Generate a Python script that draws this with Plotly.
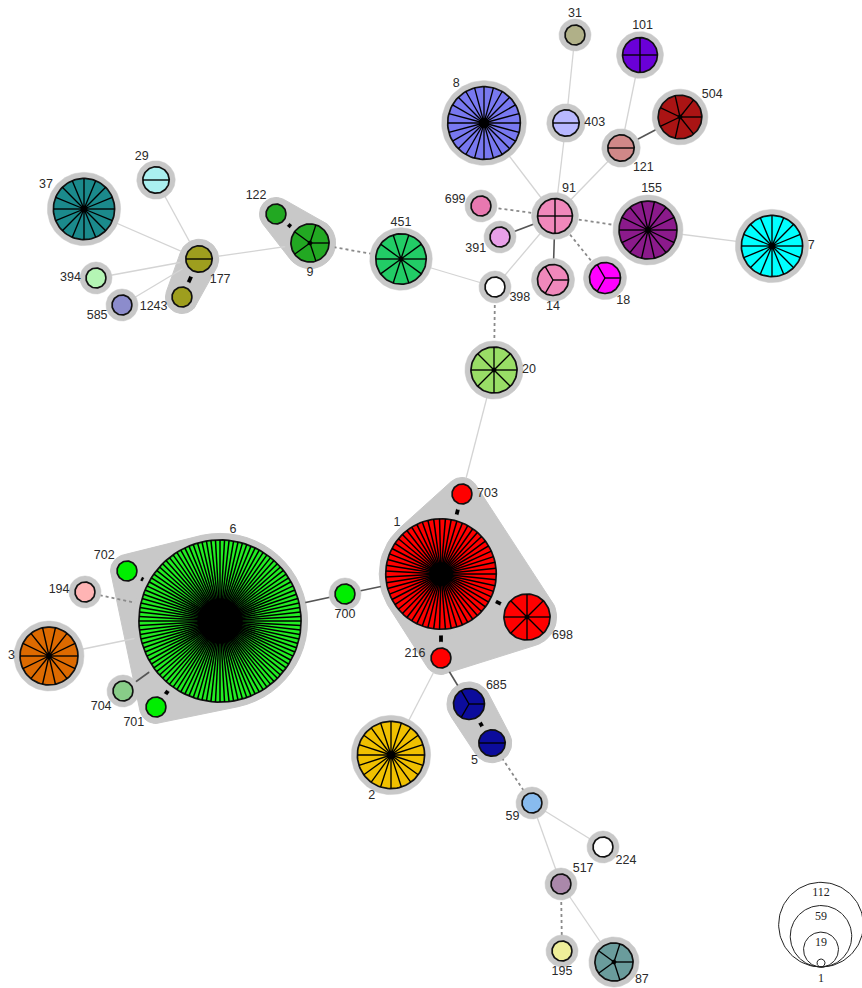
import numpy as np
import plotly.graph_objects as go

# ---------------- data ----------------
st_labels = ["37", "29", "177", "1243", "394", "585", "122", "9", "451", "398",
             "91", "699", "391", "14", "18", "155", "7", "8", "31", "403",
             "101", "121", "504", "20", "703", "1", "698", "216", "6", "702",
             "194", "3", "704", "701", "700", "685", "5", "2", "59", "224",
             "517", "195", "87"]
layout_x = [84, 156, 199, 182, 96, 122, 276, 310, 401, 495,
            555, 481, 500, 553, 605, 648, 772, 484, 575, 566,
            640, 621, 680, 494, 462, 441, 527, 441, 220, 127,
            85, 49, 123, 156, 345, 469, 492, 391, 532, 603,
            561, 562, 614]
layout_y = [209, 180, 259, 297, 278, 305, 214, 243, 259, 287,
            216, 206, 237, 280, 278, 230, 246, 123, 35, 123,
            55, 148, 117, 370, 494, 574, 617, 658, 621, 571,
            592, 656, 691, 707, 594, 704, 743, 755, 803, 847,
            884, 951, 962]
isolates = [16, 2, 2, 1, 1, 1, 1, 5, 10, 1,
            4, 1, 1, 3, 3, 14, 16, 24, 1, 2,
            4, 2, 7, 8, 1, 59, 8, 1, 112, 1,
            1, 14, 1, 1, 1, 3, 2, 20, 1, 1,
            1, 1, 5]
node_colors = ["#1b8a8c", "#aaf0f0", "#9e9e1e", "#9e9e1e", "#b4f5b4", "#8c8ccc", "#22a822", "#22a822", "#22cc66", "#ffffff",
               "#f088bb", "#e878b0", "#e8a0e8", "#f088bb", "#ff00ff", "#8b1a8b", "#00ffff", "#7878f0", "#b0b088", "#b8b8ff",
               "#6a00d8", "#d08888", "#aa1414", "#99dd66", "#ff0000", "#ff0000", "#ff0000", "#ff0000", "#22ee22", "#00ee00",
               "#ffb4b4", "#dd6a00", "#88cc88", "#00ee00", "#00ee00", "#0c0c9c", "#0c0c9c", "#f0c000", "#88bbee", "#ffffff",
               "#aa88aa", "#eeee99", "#6a9c9c"]
label_angle = [148, 122, -45, 200, 180, 203, 138, 270, 90, -23,
               63, 166, 206, 270, -52, 85, 0, 125, 90, 0,
               85, -42, 34, 0, 0, 131, -28, 170, 82, 147,
               175, 180, 216, 215, 270, 33, 225, 245, 216, -32,
               35, 270, -33]

edges = [("37", "177", "light"), ("29", "177", "light"), ("394", "177", "light"),
         ("585", "177", "light"), ("177", "1243", "thick"), ("177", "9", "light"),
         ("122", "9", "thick"), ("9", "451", "dash"), ("451", "398", "light"),
         ("398", "91", "light"), ("398", "20", "dash"), ("91", "699", "dash"),
         ("91", "391", "dark"), ("91", "14", "dark"), ("91", "18", "dash"),
         ("91", "155", "dash"), ("91", "8", "light"), ("91", "403", "light"),
         ("403", "31", "light"), ("91", "121", "light"), ("121", "101", "light"),
         ("121", "504", "dark"), ("155", "7", "light"), ("20", "703", "light"),
         ("703", "1", "thick"), ("1", "698", "thick"), ("1", "216", "thick"),
         ("1", "700", "dark"), ("700", "6", "dark"), ("6", "702", "thick"),
         ("6", "701", "thick"), ("6", "704", "dark"), ("6", "194", "dash"),
         ("6", "3", "light"), ("216", "685", "dark"), ("216", "2", "light"),
         ("685", "5", "thick"), ("5", "59", "dash"), ("59", "224", "light"),
         ("59", "517", "light"), ("517", "195", "dash"), ("517", "87", "light")]

clonal_complexes = [["177", "1243"], ["122", "9"], ["1", "703", "698", "216"],
                    ["6", "702", "701"], ["685", "5"]]

legend_sizes = [112, 59, 19, 1]

# ---------------- styles ----------------
HALO = "#c8c8c8"
edge_style = {
    "light": dict(color="#d4d4d4", width=1.3),
    "dark": dict(color="#555555", width=1.6),
    "thick": dict(color="#000000", width=3.8),
    "dash": dict(color="#8a8a8a", width=1.8, dash="3px,3px"),
}


def radius(n):
    return 10 * n ** 0.4 + 0.0012 * n ** 2


idx = {s: i for i, s in enumerate(st_labels)}
R = [radius(n) for n in isolates]


def circle(cx, cy, r, k=90):
    t = np.linspace(0, 2 * np.pi, k + 1)
    return cx + r * np.cos(t), cy + r * np.sin(t)


def hull(points):
    pts = sorted(set(points))
    if len(pts) < 3:
        return pts

    def cross(o, a, b):
        return (a[0] - o[0]) * (b[1] - o[1]) - (a[1] - o[1]) * (b[0] - o[0])
    lower, upper = [], []
    for p in pts:
        while len(lower) >= 2 and cross(lower[-2], lower[-1], p) <= 0:
            lower.pop()
        lower.append(p)
    for p in reversed(pts):
        while len(upper) >= 2 and cross(upper[-2], upper[-1], p) <= 0:
            upper.pop()
        upper.append(p)
    return lower[:-1] + upper[:-1]


fig = go.Figure()

# clonal complex shading
for cc in clonal_complexes:
    pts = []
    for s in cc:
        i = idx[s]
        xs, ys = circle(layout_x[i], layout_y[i], R[i] + 6.5, 60)
        pts += [(round(a, 2), round(b, 2)) for a, b in zip(xs, ys)]
    h = hull(pts)
    hx = [p[0] for p in h] + [h[0][0]]
    hy = [p[1] for p in h] + [h[0][1]]
    fig.add_trace(go.Scatter(x=hx, y=hy, mode="lines", fill="toself",
                             fillcolor=HALO, line=dict(color=HALO, width=1),
                             hoverinfo="skip", showlegend=False))

# edges
for a, b, st in edges:
    i, j = idx[a], idx[b]
    fig.add_trace(go.Scatter(x=[layout_x[i], layout_x[j]], y=[layout_y[i], layout_y[j]],
                             mode="lines", line=edge_style[st],
                             hoverinfo="skip", showlegend=False))

# nodes
for i, s in enumerate(st_labels):
    cx, cy, r, n = layout_x[i], layout_y[i], R[i], isolates[i]
    hx, hy = circle(cx, cy, r + 6)
    fig.add_trace(go.Scatter(x=hx, y=hy, mode="lines", fill="toself", fillcolor=HALO,
                             line=dict(color=HALO, width=0.5), hoverinfo="skip", showlegend=False))
    bx, by = circle(cx, cy, r)
    fig.add_trace(go.Scatter(x=bx, y=by, mode="lines", fill="toself", fillcolor=node_colors[i],
                             line=dict(color="#111111", width=1.7), hoverinfo="skip", showlegend=False))
    if n > 1:
        sx, sy = [], []
        for k in range(n):
            a = 2 * np.pi * k / n
            sx += [cx, cx + r * np.cos(a), None]
            sy += [cy, cy - r * np.sin(a), None]
        fig.add_trace(go.Scatter(x=sx, y=sy, mode="lines",
                                 line=dict(color="#000000", width=1.35 if n < 40 else 1.5),
                                 hoverinfo="skip", showlegend=False))
        if n >= 5:
            core = max(2.2, 0.2 * n)
            dx, dy = circle(cx, cy, core, 48)
            fig.add_trace(go.Scatter(x=dx, y=dy, mode="lines", fill="toself", fillcolor="#000000",
                                     line=dict(color="#000000", width=0.5),
                                     hoverinfo="skip", showlegend=False))

# labels
lx, ly = [], []
for i, s in enumerate(st_labels):
    a = np.radians(label_angle[i])
    w = 3.5 * len(s)
    d = R[i] + 5 + w * abs(np.cos(a)) + 6 * abs(np.sin(a))
    lx.append(layout_x[i] + d * np.cos(a))
    ly.append(layout_y[i] - d * np.sin(a))
fig.add_trace(go.Scatter(x=lx, y=ly, mode="text", text=st_labels, textposition="middle center",
                         textfont=dict(family="Liberation Sans, Arial, sans-serif", size=12.5, color="#2a2a2a"),
                         hoverinfo="skip", showlegend=False))

# size legend
base_x, base_y = 821, 967
for n in legend_sizes:
    rl = 4 * n ** 0.5
    cx_, cy_ = circle(base_x, base_y - rl, rl, 120)
    fig.add_trace(go.Scatter(x=cx_, y=cy_, mode="lines", line=dict(color="#222222", width=1),
                             hoverinfo="skip", showlegend=False))
    ty = base_y - 2 * rl + 11 if n > 1 else base_y + 12
    fig.add_trace(go.Scatter(x=[base_x], y=[ty], mode="text", text=[str(n)],
                             textfont=dict(family="Liberation Serif, Times New Roman, serif", size=12, color="#222222"),
                             hoverinfo="skip", showlegend=False))

fig.update_layout(width=862, height=988, margin=dict(l=0, r=0, t=0, b=0),
                  paper_bgcolor="white", plot_bgcolor="white", showlegend=False,
                  xaxis=dict(range=[0, 862], visible=False, fixedrange=True),
                  yaxis=dict(range=[988, 0], visible=False, fixedrange=True))
fig.write_html("out.html")
